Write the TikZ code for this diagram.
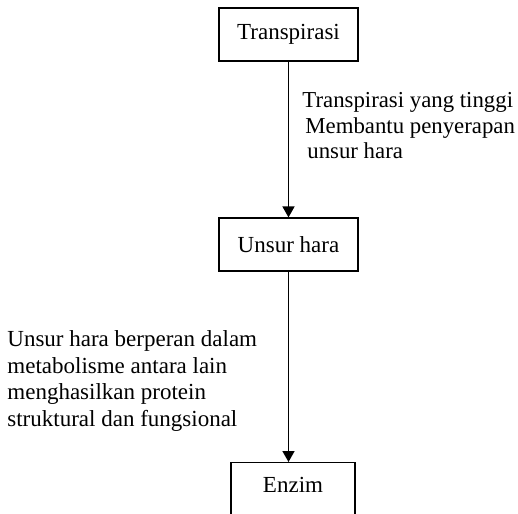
\documentclass[tikz,border=0pt]{standalone}
\usepackage{fontspec}
\setmainfont{Liberation Serif}
\usetikzlibrary{arrows.meta}
\newcommand{\BoxWd}{69.5pt}
\newcommand{\BoxHt}{26.5pt}
\tikzset{
  stepbox/.style={draw, line width=0.6pt, minimum width=\BoxWd, minimum height=\BoxHt, inner sep=0pt},
  flowarrow/.style={line width=0.8pt, -{Triangle[length=5.5pt,width=6pt]}},
  note/.style={align=left, inner sep=0pt, anchor=base west}
}
\begin{document}
\begin{tikzpicture}[x=0.5pt, y=-0.5pt, font=\fontsize{11.5pt}{12.5pt}\selectfont]
  \useasboundingbox (0,0) rectangle (518,513);
  \clip (0,0) rectangle (518,513);
  % boxes
  \node[stepbox] (trans) at (288.5,34.5) {Transpirasi};
  \node[stepbox] (hara) at (288.5,244.5) {Unsur hara};
  \node[draw, line width=0.6pt, minimum width=62pt, inner sep=0pt,
        text height=15pt, text depth=30pt, anchor=north] (enzim) at (293,462) {Enzim};
  % notes (anchored at the baseline of the last line)
  \node[note, font=\fontsize{11.4pt}{12.75pt}\selectfont] (lblTrans) at (302,159)
    {Transpirasi yang tinggi\\
    \hspace{1.5pt}Membantu penyerapan\\
    \hspace{2.5pt}unsur hara};
  \node[note, font=\fontsize{11.5pt}{13.3pt}\selectfont] (lblHara) at (7,426.5)
    {Unsur hara berperan dalam\\
     metabolisme antara lain\\
     menghasilkan protein\\
     struktural dan fungsional};
  % arrows
  \draw[flowarrow] (trans) -- (hara);
  \draw[flowarrow] (hara.south) -- (hara.south |- enzim.north);
\end{tikzpicture}
\end{document}
